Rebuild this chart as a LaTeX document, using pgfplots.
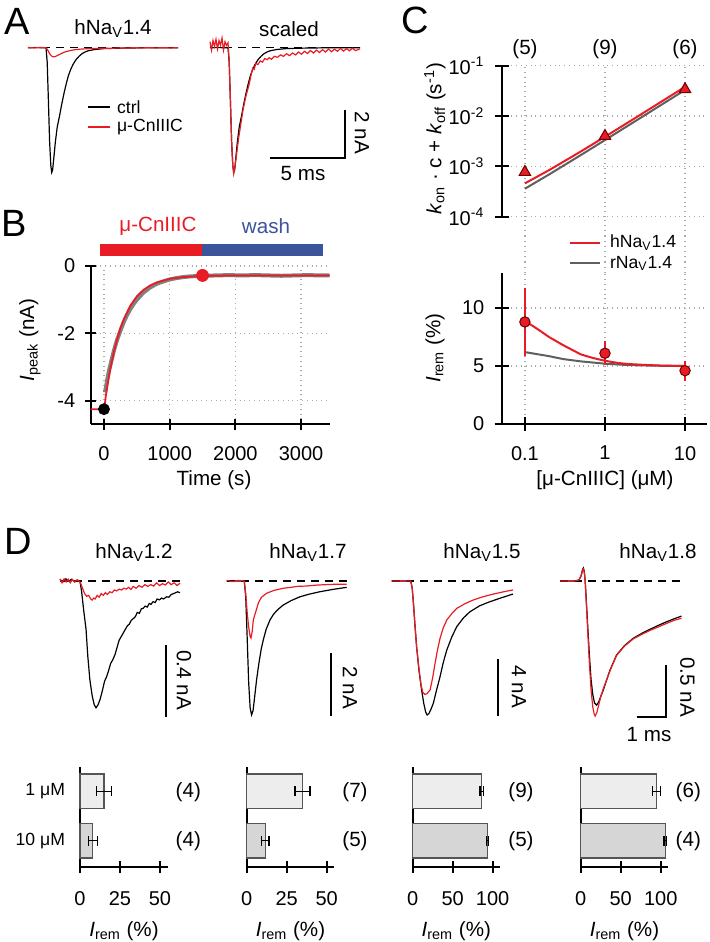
\documentclass[border=0pt]{standalone}
\usepackage{fontspec}
\setmainfont{Liberation Sans}
\usepackage{pgfplots}
\pgfplotsset{compat=1.18}
\usepackage{pgfplotstable}

\definecolor{myred}{RGB}{232,28,36}
\definecolor{darkred}{RGB}{110,0,0}
\definecolor{washblue}{RGB}{59,84,155}
\definecolor{bgray}{RGB}{128,128,128}
\definecolor{rgray}{RGB}{95,95,95}
\definecolor{barA}{RGB}{237,237,237}
\definecolor{barB}{RGB}{214,214,214}
\definecolor{barEdge}{RGB}{85,85,85}
\definecolor{gridc}{RGB}{170,170,170}

\newcommand\fs{\fontsize{10.3}{12.4}\selectfont}
\newcommand\ft{\fontsize{10}{12}\selectfont}
\newcommand\fl{\fontsize{8.8}{10.5}\selectfont}
\newcommand\fbig{\fontsize{19}{23}\selectfont}
\newcommand\fsc{\fontsize{10.3}{12.4}\selectfont}

\pgfplotsset{
  base/.style={scale only axis, anchor=south west, clip=false,
    tick label style={font=\ft},
    /pgf/number format/assume math mode=true,
    /pgf/number format/1000 sep={},
    major tick style={line width=0.9pt, black},
    tick align=outside, major tick length=6pt,
    grid style={dotted, gridc, line width=0.6pt}},
  noarrow/.style={axis line style={-, line width=0.9pt}},
  trace/.style={scale only axis, anchor=south west, clip=false, hide axis},
  bars/.style={base, width=44pt, height=50pt, ymin=-0.522, ymax=1.494, xmin=0,
    axis x line=bottom, axis y line=left, noarrow, ytick=\empty,
    xticklabel style={yshift=-6pt}},
  bA/.style={xbar, bar width=17.25pt, bar shift=0pt, fill=barA, draw=barEdge, line width=0.6pt,
    error bars/.cd, x dir=both, x explicit, error bar style={black, line width=0.6pt},
    error mark options={black, mark size=2.5pt, line width=0.6pt, rotate=90}},
  bB/.style={xbar, bar width=17.25pt, bar shift=0pt, fill=barB, draw=barEdge, line width=0.6pt,
    error bars/.cd, x dir=both, x explicit, error bar style={black, line width=0.6pt},
    error mark options={black, mark size=2.5pt, line width=0.6pt, rotate=90}},
}

\pgfplotstableread{
t I
0 0
0.5 0.005
1.0 0
1.2 0
1.28 -0.6
1.36 -2.2
1.44 -3.9
1.52 -4.9
1.58 -5.2
1.64 -5.1
1.72 -4.6
1.82 -3.95
1.95 -3.3
2.1 -2.85
2.25 -2.35
2.4 -1.9
2.55 -1.5
2.7 -1.15
2.85 -0.9
3.0 -0.7
3.2 -0.5
3.4 -0.36
3.6 -0.25
3.8 -0.18
4.0 -0.13
4.4 -0.08
5.0 -0.04
6.0 -0.02
7.0 -0.01
8.0 0
10.0 0
}\blackA

\begin{document}
\begin{tikzpicture}[x=0.5pt,y=-0.5pt,font=\fs]
\useasboundingbox (0,0) rectangle (709,942);

% ---------------- A left
\begin{axis}[trace, at={(14pt,-88.65pt)}, width=75pt, height=72pt, xmin=0, xmax=10, ymin=-5.4, ymax=0.6]
\draw[dash pattern=on 4pt off 3pt, line width=0.6pt] (axis cs:0,0) -- (axis cs:10,0);
\addplot[black, line width=0.6pt] table {\blackA};
\addplot[myred, line width=0.6pt] coordinates {(0,0.01)(0.4,-0.01)(0.8,0.01)(1.2,0)(1.3,-0.08)(1.4,-0.2)(1.5,-0.3)(1.6,-0.36)(1.7,-0.38)(1.8,-0.37)(1.95,-0.33)(2.1,-0.28)(2.3,-0.22)(2.5,-0.17)(2.8,-0.12)(3.1,-0.085)(3.5,-0.06)(4.0,-0.04)(4.5,-0.03)(5,-0.02)(5.5,-0.03)(6,-0.01)(6.5,-0.02)(7,0)(7.5,-0.015)(8,0.005)(8.5,-0.01)(9,0)(9.5,-0.01)(10,0)};
\end{axis}

% ---------------- A right (scaled)
\begin{axis}[trace, at={(105pt,-88.65pt)}, width=75pt, height=72pt, xmin=0, xmax=10, ymin=-5.4, ymax=0.6]
\draw[dash pattern=on 4pt off 3pt, line width=0.6pt] (axis cs:0,0) -- (axis cs:10,0);
\addplot[black, line width=0.6pt] table {\blackA};
\addplot[myred, line width=0.6pt] coordinates {(0,0.25)(0.1,-0.1)(0.2,0.3)(0.3,0.05)(0.4,0.35)(0.5,-0.05)(0.6,0.3)(0.7,0.1)(0.8,0.4)(0.9,-0.1)(1.0,0.25)(1.1,0.1)(1.2,0.2)(1.28,-0.6)(1.36,-2.2)(1.44,-3.9)(1.52,-4.9)(1.58,-5.25)(1.66,-5.0)(1.78,-4.4)(1.9,-3.8)(2.05,-3.2)(2.2,-2.6)(2.4,-2.0)(2.6,-1.55)(2.75,-1.1)(2.85,-0.85)(2.95,-0.9)(3.05,-0.65)(3.2,-0.7)(3.35,-0.55)(3.5,-0.6)(3.65,-0.45)(3.8,-0.5)(3.95,-0.42)(4.1,-0.48)(4.3,-0.36)(4.5,-0.4)(4.7,-0.3)(4.9,-0.36)(5.1,-0.25)(5.3,-0.33)(5.5,-0.22)(5.7,-0.3)(5.9,-0.18)(6.1,-0.27)(6.3,-0.15)(6.5,-0.24)(6.7,-0.12)(6.9,-0.22)(7.1,-0.1)(7.3,-0.2)(7.5,-0.08)(7.7,-0.18)(7.9,-0.05)(8.1,-0.17)(8.3,-0.06)(8.5,-0.15)(8.7,-0.03)(8.9,-0.14)(9.1,-0.04)(9.3,-0.13)(9.5,-0.02)(9.7,-0.12)(10,-0.05)};
\draw[line width=1pt] (axis cs:4,-4.6) -- (axis cs:9,-4.6) -- (axis cs:9,-2.6);
\end{axis}

% ---------------- B
\begin{axis}[base, at={(45.35pt,-212pt)}, width=119.65pt, height=79pt,
  xmin=-202, xmax=3440, ymin=-4.69, ymax=0,
  axis x line=bottom, axis y line=left, noarrow, xtick={0,1000,2000,3000}, ytick={-4,-2,0},
  grid=major, major tick length=5.5pt,
  xticklabel style={yshift=-5pt}, yticklabel style={xshift=-1.5pt}]
\addplot[bgray, line width=2pt, line join=round] coordinates {(15,-3.75)(30,-3.6)(50,-3.37)(75,-3.12)(100,-2.92)(125,-2.72)(150,-2.52)(175,-2.35)(200,-2.19)(250,-1.92)(300,-1.67)(350,-1.46)(400,-1.28)(450,-1.13)(500,-1.0)(600,-0.79)(700,-0.64)(800,-0.53)(900,-0.46)(1000,-0.4)(1100,-0.36)(1200,-0.33)(1300,-0.31)(1400,-0.3)(1500,-0.29)(1700,-0.28)(1900,-0.27)(2100,-0.28)(2300,-0.27)(2500,-0.28)(2700,-0.29)(2900,-0.28)(3100,-0.27)(3300,-0.28)(3430,-0.28)};
\addplot[myred, line width=0.9pt] coordinates {(-202,-4.25)(5,-4.25)(25,-3.9)(50,-3.58)(75,-3.29)(100,-3.02)(150,-2.56)(200,-2.17)(250,-1.85)(300,-1.59)(400,-1.18)(500,-0.9)(600,-0.71)(700,-0.58)(800,-0.49)(1000,-0.38)(1200,-0.33)(1500,-0.295)(2000,-0.28)(3440,-0.28)};
\addplot[only marks, mark=*, mark size=2.75pt, black] coordinates {(0,-4.25)};
\addplot[only marks, mark=*, mark size=3pt, myred] coordinates {(1500,-0.28)};
\end{axis}

% ---------------- C top
\begin{axis}[base, at={(250.85pt,-108.35pt)}, width=102.65pt, height=75.5pt,
  xmode=log, ymode=log, xmin=0.0513, xmax=18.8, ymin=1e-4, ymax=1e-1,
  axis x line=bottom, axis y line=left, separate axis lines, noarrow, x axis line style={draw=none},
  xtick={0.1,1,10}, xticklabels={}, xtick style={draw=none},
  ytick={1e-4,1e-3,1e-2,1e-1},
  yticklabels={10\textsuperscript{-4},10\textsuperscript{-3},10\textsuperscript{-2},10\textsuperscript{-1}},
  xminorticks=false, yminorticks=false, grid=major, major tick length=7pt,
  yticklabel style={inner xsep=1pt, xshift=-4pt}]
\addplot[rgray, line width=1pt] coordinates {(0.1,3.6e-4)(0.2,6.9e-4)(0.5,1.68e-3)(1,3.33e-3)(2,6.63e-3)(5,1.653e-2)(10,3.303e-2)};
\addplot[myred, line width=1pt] coordinates {(0.1,4.6e-4)(0.2,8.4e-4)(0.5,1.98e-3)(1,3.88e-3)(2,7.68e-3)(5,1.908e-2)(10,3.808e-2)};
\addplot[only marks, mark=triangle*, mark size=3.3pt, mark options={fill=myred, draw=darkred, line width=0.5pt}] coordinates {(0.1,7.7e-4)(1,4.0e-3)(10,3.4e-2)};
\end{axis}

% ---------------- C bottom
\begin{axis}[base, at={(250.85pt,-212pt)}, width=102.65pt, height=75.5pt,
  xmode=log, xmin=0.0513, xmax=18.8, ymin=0, ymax=13.02,
  axis x line=bottom, axis y line=left, noarrow,
  xtick={0.1,1,10}, xticklabels={0.1,1,10}, ytick={0,5,10},
  xminorticks=false, grid=major, major tick length=7pt,
  yticklabel style={inner xsep=1pt, xshift=-4pt}, xticklabel style={yshift=-4pt}]
\draw[dotted, gridc, line width=0.6pt] (axis cs:0.1,13.02) -- (axis cs:0.1,17.9);
\draw[dotted, gridc, line width=0.6pt] (axis cs:1,13.02) -- (axis cs:1,17.9);
\draw[dotted, gridc, line width=0.6pt] (axis cs:10,13.02) -- (axis cs:10,17.9);
\addplot[rgray, line width=1pt] coordinates {(0.1,6.2)(0.2,5.85)(0.3,5.6)(0.5,5.4)(1,5.2)(2,5.08)(3,5.05)(5,5.02)(10,5.0)};
\addplot[myred, line width=1pt] coordinates {(0.1,8.9)(0.15,8.1)(0.2,7.5)(0.3,6.8)(0.5,6.0)(0.7,5.7)(1,5.45)(1.5,5.25)(2,5.17)(3,5.1)(5,5.04)(10,5.0)};
\addplot[only marks, mark=*, mark size=2.6pt, mark options={fill=myred, draw=darkred, line width=0.5pt},
  error bars/.cd, y dir=both, y explicit, error bar style={myred, line width=0.6pt},
  error mark options={myred, mark size=2pt, line width=0.6pt}]
  coordinates {(0.1,8.8) +- (0,2.56) (1,6.1) +- (0,0.7) (10,4.6) +- (0,0.52)};
\end{axis}

% ---------------- D traces
\begin{axis}[trace, at={(30pt,-360pt)}, width=60pt, height=77.5pt, xmin=0, xmax=4.1, ymin=-0.775, ymax=0.0893]
\draw[dash pattern=on 4pt off 3pt, line width=0.6pt] (axis cs:0,0) -- (axis cs:4.1,0);
\addplot[black, line width=0.6pt] coordinates {(0,0.01)(0.1,-0.005)(0.2,0.012)(0.3,0)(0.4,0.01)(0.5,-0.005)(0.6,0.005)(0.68,0)(0.74,-0.06)(0.8,-0.15)(0.89,-0.27)(0.95,-0.42)(1.02,-0.55)(1.1,-0.64)(1.17,-0.69)(1.23,-0.707)(1.3,-0.69)(1.37,-0.66)(1.45,-0.61)(1.52,-0.56)(1.59,-0.534)(1.66,-0.5)(1.73,-0.46)(1.8,-0.44)(1.88,-0.41)(1.95,-0.37)(2.02,-0.33)(2.09,-0.31)(2.16,-0.29)(2.23,-0.27)(2.3,-0.25)(2.37,-0.24)(2.43,-0.22)(2.5,-0.21)(2.57,-0.2)(2.64,-0.175)(2.71,-0.18)(2.78,-0.155)(2.84,-0.152)(2.91,-0.14)(2.98,-0.145)(3.05,-0.125)(3.11,-0.13)(3.18,-0.115)(3.25,-0.12)(3.32,-0.1)(3.4,-0.105)(3.47,-0.095)(3.54,-0.1)(3.64,-0.088)(3.72,-0.09)(3.8,-0.075)(3.88,-0.07)(3.95,-0.065)(4.02,-0.06)(4.1,-0.065)};
\addplot[myred, line width=0.6pt] coordinates {(0,0.01)(0.07,-0.01)(0.14,0.012)(0.21,-0.005)(0.28,0.01)(0.35,-0.01)(0.42,0.008)(0.5,-0.005)(0.57,0.006)(0.64,0)(0.7,-0.01)(0.77,-0.04)(0.84,-0.07)(0.91,-0.085)(0.98,-0.08)(1.05,-0.1)(1.1,-0.106)(1.15,-0.095)(1.2,-0.1)(1.27,-0.08)(1.34,-0.09)(1.41,-0.07)(1.48,-0.08)(1.55,-0.065)(1.62,-0.075)(1.7,-0.06)(1.78,-0.065)(1.86,-0.05)(1.94,-0.055)(2.02,-0.045)(2.1,-0.05)(2.18,-0.04)(2.26,-0.045)(2.34,-0.035)(2.42,-0.047)(2.5,-0.03)(2.6,-0.04)(2.7,-0.025)(2.8,-0.035)(2.9,-0.02)(3.0,-0.03)(3.1,-0.02)(3.2,-0.028)(3.3,-0.01)(3.4,-0.025)(3.5,-0.015)(3.6,-0.022)(3.7,-0.005)(3.8,-0.02)(3.9,-0.01)(4.0,-0.025)(4.1,-0.012)};
\draw[line width=1pt] (axis cs:3.62,-0.357) -- (axis cs:3.62,-0.757);
\end{axis}

\begin{axis}[trace, at={(113.35pt,-360pt)}, width=60pt, height=77.5pt, xmin=0, xmax=4.1, ymin=-4.392, ymax=0.5055]
\draw[dash pattern=on 4pt off 3pt, line width=0.6pt] (axis cs:0,0) -- (axis cs:4.1,0);
\addplot[black, line width=0.6pt] coordinates {(0,0)(0.6,0)(0.65,-0.5)(0.7,-1.8)(0.75,-3.2)(0.8,-4.0)(0.85,-4.23)(0.9,-4.1)(0.95,-3.7)(1.02,-3.13)(1.1,-2.6)(1.18,-2.15)(1.25,-1.86)(1.35,-1.52)(1.48,-1.23)(1.6,-1.05)(1.75,-0.9)(1.93,-0.76)(2.2,-0.62)(2.5,-0.5)(2.8,-0.42)(3.18,-0.34)(3.6,-0.27)(4.1,-0.2)};
\addplot[myred, line width=0.6pt] coordinates {(0,0.02)(0.2,-0.02)(0.4,0.02)(0.6,0)(0.65,-0.4)(0.7,-1.0)(0.75,-1.45)(0.8,-1.75)(0.83,-1.8)(0.87,-1.6)(0.91,-1.23)(0.95,-1.1)(1.0,-0.95)(1.08,-0.7)(1.18,-0.52)(1.36,-0.39)(1.6,-0.3)(1.93,-0.23)(2.2,-0.2)(2.4,-0.17)(2.7,-0.16)(3.07,-0.13)(3.5,-0.11)(3.8,-0.1)(4.1,-0.1)};
\draw[line width=1pt] (axis cs:3.58,-2.27) -- (axis cs:3.58,-4.27);
\end{axis}

\begin{axis}[trace, at={(195.85pt,-360pt)}, width=60.65pt, height=77.5pt, xmin=0, xmax=4.14, ymin=-9.806, ymax=1.129]
\draw[dash pattern=on 4pt off 3pt, line width=0.6pt] (axis cs:0,0) -- (axis cs:4.14,0);
\addplot[black, line width=0.6pt] coordinates {(0,0)(0.65,0)(0.7,-0.5)(0.75,-1.8)(0.8,-3.3)(0.85,-4.63)(0.93,-6.3)(1.02,-7.69)(1.1,-8.7)(1.16,-9.25)(1.21,-9.45)(1.27,-9.35)(1.34,-9.05)(1.42,-8.63)(1.53,-7.7)(1.65,-6.75)(1.76,-5.75)(1.88,-4.87)(2.05,-3.95)(2.22,-3.22)(2.45,-2.6)(2.67,-2.17)(3.0,-1.75)(3.35,-1.46)(3.75,-1.18)(4.14,-0.92)};
\addplot[myred, line width=0.6pt] coordinates {(0,0)(0.65,0)(0.7,-0.5)(0.75,-1.8)(0.8,-3.3)(0.85,-4.63)(0.93,-6.2)(1.0,-7.3)(1.06,-7.85)(1.13,-8.0)(1.2,-7.95)(1.31,-7.69)(1.4,-6.8)(1.48,-5.8)(1.56,-4.9)(1.65,-4.04)(1.76,-3.3)(1.88,-2.75)(2.05,-2.3)(2.22,-1.93)(2.5,-1.6)(2.78,-1.34)(3.1,-1.12)(3.47,-0.92)(3.8,-0.77)(4.14,-0.63)};
\draw[line width=1pt] (axis cs:3.64,-5.52) -- (axis cs:3.64,-9.52);
\end{axis}

\begin{axis}[trace, at={(280pt,-360pt)}, width=61.5pt, height=80pt, xmin=0, xmax=4.2, ymin=-1.344, ymax=0.203]
\draw[dash pattern=on 4pt off 3pt, line width=0.6pt] (axis cs:0,0) -- (axis cs:4.2,0);
\addplot[black, line width=0.6pt] coordinates {(0,0)(0.5,0)(0.65,0.01)(0.72,0.05)(0.77,0.11)(0.8,0.126)(0.83,0.09)(0.86,0)(0.9,-0.2)(0.95,-0.45)(1.0,-0.7)(1.06,-0.95)(1.12,-1.1)(1.18,-1.18)(1.25,-1.2)(1.32,-1.17)(1.4,-1.11)(1.48,-1.054)(1.6,-0.95)(1.71,-0.86)(1.93,-0.716)(2.2,-0.625)(2.5,-0.554)(2.8,-0.505)(3.07,-0.467)(3.35,-0.43)(3.64,-0.394)(3.9,-0.365)(4.15,-0.339)};
\addplot[myred, line width=0.6pt] coordinates {(0,0)(0.5,0)(0.65,0.01)(0.72,0.05)(0.77,0.1)(0.8,0.115)(0.83,0.08)(0.86,0)(0.9,-0.22)(0.95,-0.5)(1.0,-0.78)(1.06,-1.05)(1.12,-1.22)(1.17,-1.29)(1.2,-1.306)(1.26,-1.27)(1.33,-1.19)(1.4,-1.11)(1.48,-1.04)(1.6,-0.95)(1.71,-0.865)(1.93,-0.72)(2.2,-0.63)(2.5,-0.56)(2.8,-0.515)(3.07,-0.478)(3.35,-0.445)(3.64,-0.41)(3.9,-0.38)(4.15,-0.36)};
\draw[line width=1pt] (axis cs:2.62,-1.312) -- (axis cs:3.62,-1.312) -- (axis cs:3.62,-0.812);
\end{axis}

% ---------------- D bars
\begin{axis}[bars, at={(40pt,-433.35pt)}, width=44.15pt, xmax=55.2, xtick={0,25,50}]
\addplot[bA] coordinates {(15,1) +- (4.7,0)};
\addplot[bB] coordinates {(8,0) +- (2.8,0)};
\end{axis}
\begin{axis}[bars, at={(123.35pt,-433.35pt)}, width=43.8pt, xmax=54.8, xtick={0,25,50}]
\addplot[bA] coordinates {(34.9,1) +- (4.7,0)};
\addplot[bB] coordinates {(11.6,0) +- (2.3,0)};
\end{axis}
\begin{axis}[bars, at={(206.35pt,-433.35pt)}, width=43.65pt, xmax=109.2, xtick={0,50,100}]
\addplot[bA] coordinates {(86.2,1) +- (2,0)};
\addplot[bB] coordinates {(93.7,0) +- (1,0)};
\end{axis}
\begin{axis}[bars, at={(290.35pt,-433.35pt)}, width=43.8pt, xmax=109.5, xtick={0,50,100}]
\addplot[bA] coordinates {(94.5,1) +- (5,0)};
\addplot[bB] coordinates {(105.5,0) +- (1.5,0)};
\end{axis}

% ---------------- text annotations
\node[font=\fbig] at (17,21) {A};
\node[font=\fbig] at (14,223) {B};
\node[font=\fbig] at (415,20) {C};
\node[font=\fbig] at (18,541) {D};

\node at (113,29) {hNa\textsubscript{V}1.4};
\node at (289,29) {scaled};
\draw[black,line width=0.6pt] (88,107)--(110,107);
\node[anchor=west, font=\fl] at (110,107) {ctrl};
\draw[myred,line width=0.6pt] (88,127)--(110,127);
\node[anchor=west, font=\fl] at (110,127) {μ-CnIIIC};
\node[font=\fsc] at (303,174) {5 ms};
\node[font=\fsc, rotate=-90] at (362,133) {2 nA};

\node[myred] at (158,226) {μ-CnIIIC};
\node[washblue] at (266,226) {wash};
\fill[myred] (100,244) rectangle (202,256);
\fill[washblue] (202,244) rectangle (323,256);
\node[rotate=90] at (30,340) {\textit{I}\textsubscript{peak} (nA)};
\node at (214,480) {Time (s)};

\node at (525,49) {(5)};
\node at (605,49) {(9)};
\node at (685,49) {(6)};
\node[rotate=90] at (435,139) {\textit{k}\textsubscript{on} · c + \textit{k}\textsubscript{off} (s\textsuperscript{-1})};
\node[rotate=90] at (435,348) {\textit{I}\textsubscript{rem} (\%)};
\node at (605,480) {[μ-CnIIIC] (μM)};
\draw[myred, line width=1pt] (570,242.7) -- (600,242.7);
\node[anchor=west, font=\fl] at (603,242.7) {hNa\textsubscript{V}1.4};
\draw[rgray, line width=1pt] (570,263.3) -- (600,263.3);
\node[anchor=west, font=\fl] at (603,263.3) {rNa\textsubscript{V}1.4};

\node at (134,553) {hNa\textsubscript{V}1.2};
\node at (308,553) {hNa\textsubscript{V}1.7};
\node at (482,553) {hNa\textsubscript{V}1.5};
\node at (658,553) {hNa\textsubscript{V}1.8};
\node[font=\fsc,rotate=-90] at (184,680) {0.4 nA};
\node[font=\fsc,rotate=-90] at (350,688) {2 nA};
\node[font=\fsc,rotate=-90] at (519,687) {4 nA};
\node[font=\fsc,rotate=-90] at (687.5,687) {0.5 nA};
\node[font=\fsc] at (649,735) {1 ms};

\node[anchor=east, font=\fl] at (72,791) {1 μM};
\node[anchor=east, font=\fl] at (72,841) {10 μM};
\node at (188.3,792) {(4)};
\node at (188.3,841) {(4)};
\node at (355,792) {(7)};
\node at (355,841) {(5)};
\node at (521,792) {(9)};
\node at (521,841) {(5)};
\node at (688.3,792) {(6)};
\node at (688.3,841) {(4)};
\node at (124,931) {\textit{I}\textsubscript{rem} (\%)};
\node at (290.5,931) {\textit{I}\textsubscript{rem} (\%)};
\node at (456.3,931) {\textit{I}\textsubscript{rem} (\%)};
\node at (624.5,931) {\textit{I}\textsubscript{rem} (\%)};
\end{tikzpicture}
\end{document}
